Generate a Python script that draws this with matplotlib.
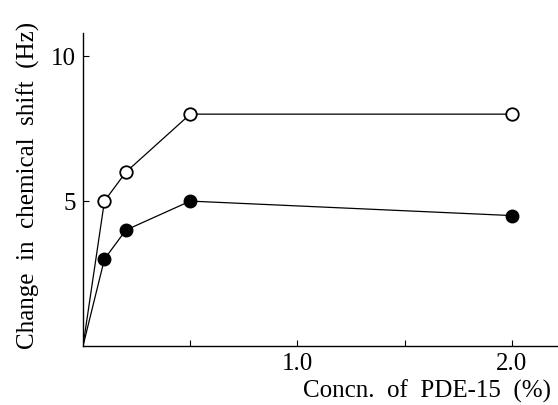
import matplotlib
matplotlib.use("Agg")
import matplotlib.pyplot as plt

conc = [0.0, 0.1, 0.2, 0.5, 2.0]
open_series = [0.0, 5.0, 6.0, 8.0, 8.0]
filled_series = [0.0, 3.0, 4.0, 5.0, 4.5]
x_ticks = [0.5, 1.0, 1.5, 2.0]
x_tick_labels = ["", "1.0", "", "2.0"]
y_ticks = [5, 10]
y_tick_labels = ["5", "10"]

plt.rcParams['font.family'] = ['Liberation Serif', 'DejaVu Serif']

fig = plt.figure(figsize=(5.58, 4.05), dpi=100)
ax = fig.add_axes([83/558, (405-346)/405, (557-83)/558, (346-33)/405])

ax.plot(conc, open_series, color='black', lw=0.9, marker='o', markersize=9,
        markerfacecolor='white', markeredgecolor='black', markeredgewidth=1.3,
        markevery=[1, 2, 3, 4], zorder=3)
ax.plot(conc, filled_series, color='black', lw=0.9, marker='o', markersize=9,
        markerfacecolor='black', markeredgecolor='black',
        markevery=[1, 2, 3, 4], zorder=3)

ax.set_xlim(0, 2.21)
ax.set_ylim(0, 10.8)
ax.spines['top'].set_visible(False)
ax.spines['right'].set_visible(False)
for s in ('left', 'bottom'):
    ax.spines[s].set_linewidth(1.0)

ax.set_xticks(x_ticks)
ax.set_xticklabels(x_tick_labels, fontsize=18)
ax.set_yticks(y_ticks)
ax.set_yticklabels(y_tick_labels, fontsize=18)
ax.tick_params(axis='x', direction='in', length=4, width=0.8, pad=5)
ax.tick_params(axis='y', direction='in', length=4, width=0.8, pad=5)

ax.set_xlabel("Concn.  of  PDE-15  (%)", fontsize=18)
ax.xaxis.set_label_coords((551-83)/(557-83), -0.108)
ax.xaxis.label.set_horizontalalignment('right')
ax.xaxis.label.set_verticalalignment('top')

ax.set_ylabel("Change  in  chemical  shift  (Hz)", fontsize=18)
ax.yaxis.set_label_coords((40-83)/(557-83), (346-185)/(346-33))

fig.savefig("out.png", dpi=100)
